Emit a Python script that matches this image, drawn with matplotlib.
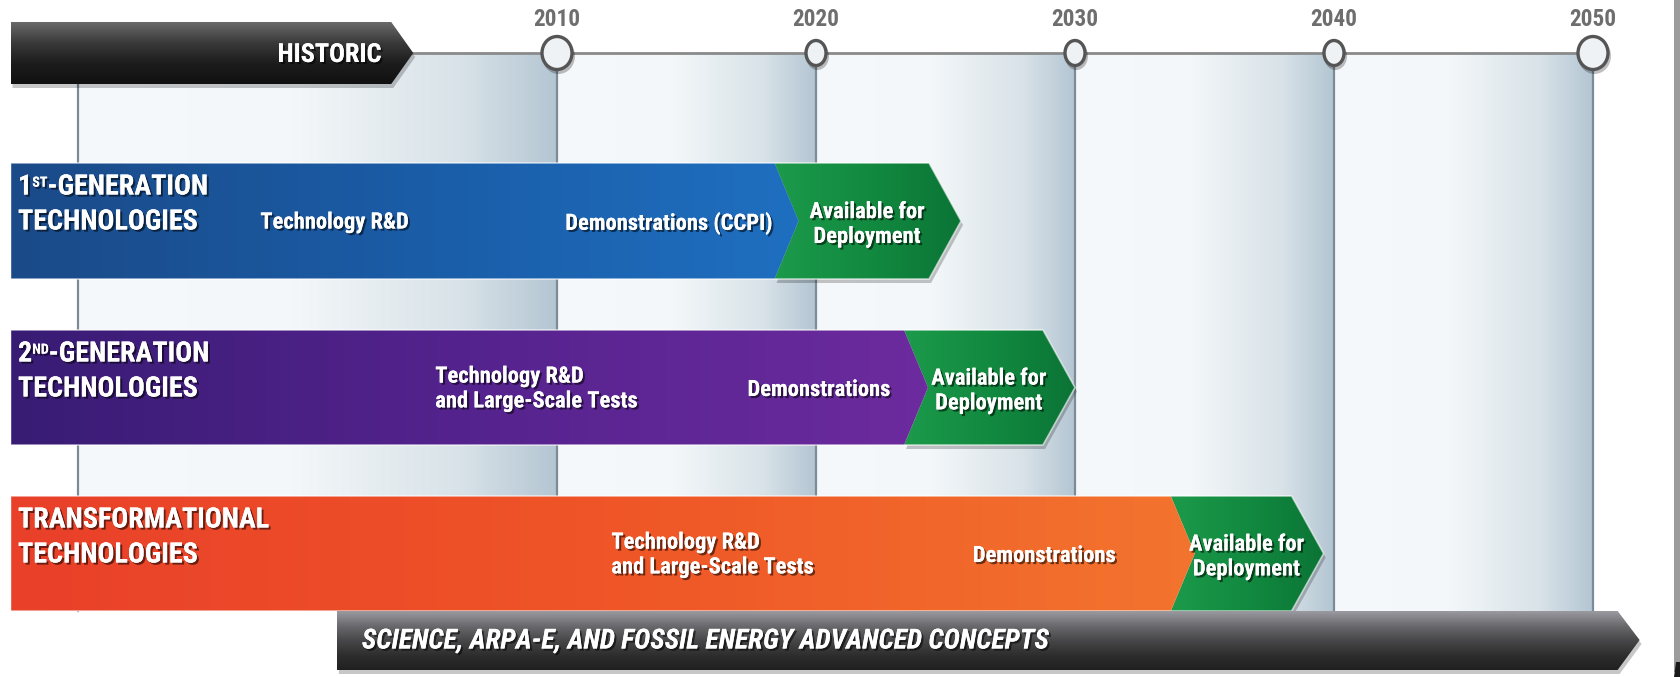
"""Carbon capture technology roadmap: historic bar, year timeline, three generation bars and
the science/advanced concepts bar underneath. Saves out.png (1681x677)."""
import numpy as np
import matplotlib
matplotlib.use("Agg")
import matplotlib.pyplot as plt
import matplotlib.font_manager as fm
from matplotlib.patches import Polygon, Ellipse, Rectangle
from matplotlib.colors import LinearSegmentedColormap
import matplotlib.patheffects as pe

# ---- data (years) ----
YEARS = [2010, 2020, 2030, 2040, 2050]
BIG_MARKER = [True, False, False, False, True]
TIMELINE_START = 1991.5

HISTORIC_LABEL = "HISTORIC"
HISTORIC_SPAN = (1988.9, 2004.45)
SCIENCE_LABEL = "SCIENCE, ARPA-E, AND FOSSIL ENERGY ADVANCED CONCEPTS"
SCIENCE_SPAN = (2001.5, 2051.8)

GEN_NUM = ["1", "2", ""]
GEN_SUP = ["ST", "ND", ""]
GEN_HEAD = ["-GENERATION", "-GENERATION", "TRANSFORMATIONAL"]
GEN_TAIL = "TECHNOLOGIES"
BAR_START = 1988.9
DEPLOY_START = [2018.4, 2023.4, 2033.7]
DEPLOY_END = [2025.6, 2030.0, 2039.6]
RD_LABELS = ["Technology R&D",
             "Technology R&D\nand Large-Scale Tests",
             "Technology R&D\nand Large-Scale Tests"]
RD_POS = [2001.4, 2005.3, 2012.1]
RD_ALIGN = ["center", "left", "left"]
DEMO_LABELS = ["Demonstrations (CCPI)", "Demonstrations", "Demonstrations"]
DEMO_POS = [2014.3, 2020.1, 2028.8]
DEPLOY_LABEL = "Available for\nDeployment"

# ---- layout (pixels, y down) ----
W, H, DPI = 1681, 677, 100
PX_PER_YEAR = 25.9
X0 = 2010 - 557 / PX_PER_YEAR
X1 = X0 + W / PX_PER_YEAR
LINE_Y = 53
COL_BOTTOM = 611
ROW_TOP = [163, 330, 496]
ROW_BOT = [279, 445, 611]
ROW_COLORS = [["#1b4a88", "#1a5ca6", "#1f6fc0"],
              ["#381c74", "#55238e", "#6c2b9e"],
              ["#e9402a", "#ef5527", "#f3742e"]]
GREEN = ["#1c9a4a", "#128a40", "#0b7436"]


def pick_font():
    """Prefer a narrow face (the original uses a condensed sans)."""
    entries = fm.fontManager.ttflist
    names = {f.name for f in entries}
    for fam in ["Liberation Sans Narrow", "Arial Narrow", "Roboto Condensed", "Open Sans Condensed"]:
        if fam in names:
            return fam, "normal"
    for fam in ["DejaVu Sans", "Noto Sans", "Open Sans", "Roboto"]:
        if any(f.name == fam and str(f.stretch) in ("condensed", "semi-condensed", "extra-condensed")
               for f in entries):
            return fam, "condensed"
    return "Roboto", "normal"


FAMILY, STRETCH = pick_font()
plt.rcParams['font.family'] = [FAMILY, 'DejaVu Sans']
plt.rcParams['font.stretch'] = STRETCH


def px(dx):
    return dx / PX_PER_YEAR


def grad_poly(ax, verts, colors, horizontal=True, z=2, shadow=True):
    if shadow:
        sv = [(x + px(2), y + 4) for x, y in verts]
        ax.add_patch(Polygon(sv, closed=True, facecolor="#000000", alpha=0.22,
                             edgecolor="none", zorder=z - 0.1))
    poly = Polygon(verts, closed=True, facecolor="none", edgecolor="none", zorder=z)
    ax.add_patch(poly)
    xs = [v[0] for v in verts]; ys = [v[1] for v in verts]
    cmap = LinearSegmentedColormap.from_list("g", colors)
    g = np.linspace(0, 1, 256)
    img = g[None, :] if horizontal else g[:, None]
    im = ax.imshow(img, cmap=cmap, extent=(min(xs), max(xs), max(ys), min(ys)),
                   aspect="auto", zorder=z, interpolation="bicubic")
    im.set_clip_path(poly)
    return poly


shadow_fx = [pe.withSimplePatchShadow(offset=(1.5, -1.5), shadow_rgbFace="#000000", alpha=0.55),
             pe.Normal()]

fig = plt.figure(figsize=(W / DPI, H / DPI), dpi=DPI, facecolor="white")
ax = fig.add_axes([0, 0, 1, 1])
ax.set_axis_off()
ax.set_xlim(X0, X1)
ax.set_ylim(H, 0)
renderer = fig.canvas.get_renderer()


def fit_size(s, target_px, **kw):
    """Font size at which the widest line of s is target_px wide."""
    t = ax.text(0, 0, s, fontsize=20, fontweight="bold", **kw)
    w = t.get_window_extent(renderer=renderer).width
    t.remove()
    return 20 * target_px / w


YEAR_FS = fit_size("2010", 47)
HIST_FS = fit_size(HISTORIC_LABEL, 104)
ROW_FS = fit_size(GEN_TAIL, 180)
PHASE_FS = fit_size("and Large-Scale Tests", 202)
SCI_FS = fit_size(SCIENCE_LABEL, 687, fontstyle="italic")

# columns between decade marks
edges = [TIMELINE_START] + YEARS
for a, b in zip(edges[:-1], edges[1:]):
    grad_poly(ax, [(a, LINE_Y), (b, LINE_Y), (b, COL_BOTTOM), (a, COL_BOTTOM)],
              [(0, "#f6f9fb"), (0.45, "#f3f7f9"), (0.8, "#d8e2e8"), (1, "#b4c6d3")],
              z=0.5, shadow=False)
for e in edges:
    ax.plot([e, e], [LINE_Y, COL_BOTTOM], color="#7b8c97", lw=1.6, zorder=0.8)

# timeline
ax.plot([HISTORIC_SPAN[1], YEARS[-1]], [LINE_Y, LINE_Y], color="#8a8a8a", lw=2, zorder=1)
for yr, big in zip(YEARS, BIG_MARKER):
    rw, rh = (30, 33) if big else (20, 25)
    ax.add_patch(Ellipse((yr + px(1.5), LINE_Y + 3), px(rw + 3), rh + 3, facecolor="#000000",
                         alpha=0.25, edgecolor="none", zorder=1.5))
    ax.add_patch(Ellipse((yr, LINE_Y), px(rw), rh, facecolor="#eff2f5", edgecolor="#555555",
                         lw=2.4, zorder=1.6))
    ax.text(yr, 19, str(yr), ha="center", va="center", fontsize=YEAR_FS, fontweight="bold",
            color="#6e6e6e", zorder=2)

# historic bar
hs, he = HISTORIC_SPAN
grad_poly(ax, [(hs, 22), (he - px(22), 22), (he, 53), (he - px(22), 84), (hs, 84)],
          ["#6a6a6a", "#3a3a3a", "#1c1c1c", "#111111"], horizontal=False, z=3)
ax.text(he - px(32), 55, HISTORIC_LABEL, ha="right", va="center", fontsize=HIST_FS,
        fontweight="bold", color="white", zorder=4, path_effects=shadow_fx)

# generation bars
kw = dict(fontweight="bold", color="white", zorder=4, path_effects=shadow_fx)
for i in range(3):
    top, bot = ROW_TOP[i], ROW_BOT[i]
    mid = (top + bot) / 2
    d, e = DEPLOY_START[i], DEPLOY_END[i]
    cd, td = px(24), px(32)
    grad_poly(ax, [(d, top), (e - td, top), (e, mid), (e - td, bot), (d, bot), (d + cd, mid)],
              GREEN, z=3)
    grad_poly(ax, [(BAR_START, top), (d, top), (d + cd, mid), (d, bot), (BAR_START, bot)],
              ROW_COLORS[i], z=3.2, shadow=False)
    ax.add_patch(Polygon([(BAR_START, top), (e - td, top), (e, mid), (e - td, bot), (BAR_START, bot)],
                         closed=True, facecolor="none", edgecolor="#ffffff", alpha=0.6,
                         lw=1.2, zorder=3.5))

    lx = X0 + px(18)
    if GEN_NUM[i]:
        t1 = ax.text(lx, top + 24, GEN_NUM[i], ha="left", va="center", fontsize=ROW_FS, **kw)
        sup = ax.annotate(GEN_SUP[i], xy=(1, 0.92), xycoords=t1, ha="left", va="top",
                          fontsize=ROW_FS * 0.5, **kw)
        ax.annotate(GEN_HEAD[i], xy=(1, 0.5), xycoords=(sup, t1), ha="left", va="center",
                    fontsize=ROW_FS, **kw)
    else:
        ax.text(lx, top + 24, GEN_HEAD[i], ha="left", va="center", fontsize=ROW_FS, **kw)
    ax.text(lx, top + 59, GEN_TAIL, ha="left", va="center", fontsize=ROW_FS, **kw)

    ax.text(RD_POS[i], mid + 1, RD_LABELS[i], ha=RD_ALIGN[i], va="center", fontsize=PHASE_FS,
            linespacing=1.1, **kw)
    ax.text(DEMO_POS[i], mid + 2, DEMO_LABELS[i], ha="center", va="center", fontsize=PHASE_FS, **kw)
    ax.text((d + cd + e - td) / 2 + px(3), mid + 3, DEPLOY_LABEL, ha="center", va="center",
            fontsize=PHASE_FS, linespacing=1.1, **kw)

# science / advanced concepts bar
ss, se = SCIENCE_SPAN
grad_poly(ax, [(ss, 611), (se - px(22), 611), (se, 640), (se - px(22), 670), (ss, 670)],
          ["#9a9aa0", "#6a6a6e", "#474749", "#2e2e2e", "#202020"], horizontal=False, z=3.6)
ax.text(ss + px(25), 641, SCIENCE_LABEL, ha="left", va="center", fontsize=SCI_FS,
        fontweight="bold", fontstyle="italic", color="white", zorder=4, path_effects=shadow_fx)

# right page edge
ax.add_patch(Rectangle((X0 + px(1674), 0), px(7), 672, facecolor="#9c9c9c",
                       edgecolor="none", zorder=5))
ax.add_patch(Polygon([(X0 + px(1674), 677), (X0 + px(1676), 662), (X0 + px(1681), 662),
                      (X0 + px(1681), 677)], closed=True, facecolor="#1a1a1a",
                     edgecolor="none", zorder=5))

ax.set_xlim(X0, X1)
ax.set_ylim(H, 0)
fig.savefig("out.png", dpi=DPI, facecolor="white")
